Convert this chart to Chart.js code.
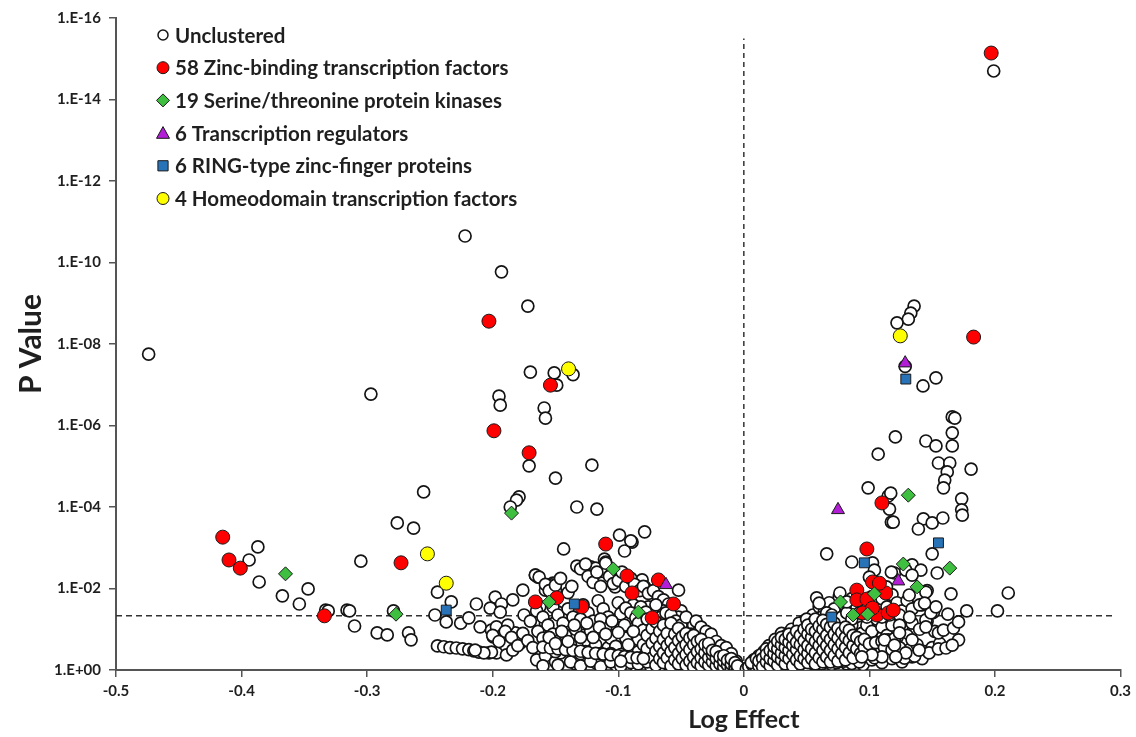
<!DOCTYPE html>
<html><head><meta charset="utf-8">
<script src="https://cdn.jsdelivr.net/npm/chart.js@4/dist/chart.umd.min.js"></script>
<style>html,body{margin:0;padding:0;background:#fff}#wrap{width:1136px;height:737px;position:relative}</style>
</head><body><div id="wrap"><canvas id="c"></canvas></div>
<script>
// ---- DATA (x = log effect, y = -log10 P) ----
const xTicks = [-0.5,-0.4,-0.3,-0.2,-0.1,0,0.1,0.2,0.3];
const yTickLabels = ['1.E+00','1.E-02','1.E-04','1.E-06','1.E-08','1.E-10','1.E-12','1.E-14','1.E-16'];
const legendLabels = ['Unclustered','58 Zinc-binding transcription factors','19 Serine/threonine protein kinases','6 Transcription regulators','6 RING-type zinc-finger proteins','4 Homeodomain transcription factors'];
const xTitle = 'Log Effect';
const yTitle = 'P Value';
const thresholdY = 1.33;
const dividerTop = 15.5;

const unclusteredOutliers = [
[-0.474,7.75],[-0.297,6.77],[-0.222,10.65],[-0.193,9.77],[-0.172,8.93],[-0.170,7.31],[-0.151,7.29],[-0.149,6.99],[-0.136,7.25],
[-0.195,6.72],[-0.194,6.50],[-0.159,6.43],[-0.158,6.18],[-0.171,5.01],[-0.150,4.71],[-0.121,5.03],[-0.255,4.37],[-0.263,3.48],
[-0.276,3.61],[-0.179,4.25],[-0.181,4.17],[-0.186,4.00],[-0.133,4.00],[-0.117,3.95],[-0.099,3.31],[-0.079,3.39],[-0.089,3.14],
[-0.095,2.92],[-0.090,3.17],[-0.1435,2.97],[-0.111,2.72],[-0.122,2.53],[-0.052,1.96],[-0.166,2.33],[-0.164,2.28],[-0.152,2.13],
[-0.150,1.96],[-0.158,1.96],[-0.244,1.91],[-0.233,1.67],[-0.246,1.35],[-0.237,1.18],[-0.213,1.62],[-0.198,1.79],[-0.193,1.62],
[-0.202,1.52],[-0.194,1.42],[-0.267,0.91],[-0.265,0.74],
[-0.244,0.59],[-0.239,0.57],[-0.234,0.55],[-0.229,0.54],[-0.224,0.52],[-0.219,0.50],[-0.215,0.47],[-0.211,0.44],
[-0.305,2.67],[-0.347,1.99],[-0.354,1.62],[-0.333,1.47],[-0.331,1.45],[-0.316,1.47],[-0.314,1.45],[-0.310,1.08],[-0.292,0.91],
[-0.284,0.86],[-0.394,2.70],[-0.387,3.02],[-0.386,2.16],[-0.3675,1.82],[-0.279,1.45],
[-0.2255,1.15],[-0.219,1.28],[-0.210,1.06],[-0.201,0.98],[-0.197,1.06],[-0.192,0.86],[-0.203,0.42],[-0.197,0.42],[-0.189,0.37],
[-0.1625,1.55],[-0.153,2.09],[-0.148,1.42],[-0.158,1.15],[-0.151,1.15],[-0.1625,0.93],[-0.182,0.91],[-0.1995,0.81],[-0.178,0.66],
[-0.184,0.49],[-0.201,0.44],[-0.207,0.42],[-0.214,0.49],[-0.118,2.50],[-0.110,2.65],[-0.106,2.33],[-0.081,2.21],[-0.079,2.04],
[-0.113,2.13],[-0.1025,2.04],[-0.188,1.10],[-0.176,0.74],[-0.184,1.72],[-0.176,1.96]
];
const unclusteredLeftMass = [
[-0.166,2.33],[-0.163,2.28],[-0.158,2.10],[-0.155,1.95],[-0.150,2.08],[-0.146,2.25],[-0.140,1.90],[-0.137,2.05],[-0.133,2.55],
[-0.130,2.48],[-0.126,2.60],[-0.124,2.30],[-0.120,2.15],[-0.117,2.40],[-0.114,2.05],[-0.110,2.62],[-0.107,2.30],[-0.104,2.12],
[-0.100,2.20],[-0.097,2.40],[-0.094,2.05],[-0.090,2.25],[-0.087,2.10],[-0.083,1.95],[-0.080,2.05],[-0.076,1.88],[-0.072,1.95],
[-0.068,1.80],[-0.064,1.72],[-0.060,1.62],[-0.056,1.55],[-0.050,1.45],
[-0.175,1.35],[-0.170,1.20],[-0.165,1.45],[-0.160,1.30],[-0.156,1.10],[-0.152,1.55],[-0.148,1.35],[-0.144,1.15],[-0.140,1.50],
[-0.136,1.30],[-0.132,1.05],[-0.128,1.60],[-0.124,1.40],[-0.120,1.20],[-0.116,1.70],[-0.112,1.50],[-0.108,1.30],[-0.104,1.10],
[-0.100,1.65],[-0.096,1.45],[-0.092,1.25],[-0.088,1.60],[-0.084,1.40],[-0.080,1.20],[-0.076,1.55],[-0.072,1.35],[-0.068,1.15],
[-0.064,1.45],[-0.060,1.25],[-0.056,1.05],[-0.052,1.30],[-0.048,1.15],[-0.044,1.00],[-0.040,1.10],[-0.036,0.95],[-0.032,0.85],[-0.028,0.75],
[-0.200,0.85],[-0.195,0.70],[-0.190,0.95],[-0.185,0.80],[-0.180,0.60],[-0.176,0.90],[-0.172,0.72],[-0.168,0.55],[-0.164,0.95],
[-0.160,0.78],[-0.156,0.60],[-0.152,0.88],[-0.148,0.70],[-0.144,0.52],[-0.140,0.92],[-0.136,0.75],[-0.132,0.58],[-0.128,0.85],
[-0.124,0.68],[-0.120,0.50],[-0.116,0.90],[-0.112,0.72],[-0.108,0.55],[-0.104,0.85],[-0.100,0.68],[-0.096,0.50],[-0.092,0.90],
[-0.088,0.72],[-0.084,0.55],[-0.080,0.88],[-0.076,0.70],[-0.072,0.52],[-0.068,0.85],[-0.064,0.68],[-0.060,0.50],[-0.056,0.80],
[-0.052,0.62],[-0.048,0.45],[-0.044,0.72],[-0.040,0.55],[-0.036,0.40],[-0.032,0.60],[-0.028,0.45],[-0.024,0.55],[-0.020,0.40],
[-0.016,0.45],[-0.012,0.30],
[-0.165,0.25],[-0.158,0.35],[-0.150,0.20],[-0.142,0.30],[-0.134,0.15],[-0.126,0.28],[-0.118,0.18],[-0.110,0.32],[-0.102,0.12],
[-0.094,0.25],[-0.086,0.10],[-0.078,0.30],[-0.070,0.15],[-0.062,0.22],[-0.054,0.10],[-0.046,0.25],[-0.040,0.12],[-0.034,0.20],
[-0.028,0.08],[-0.022,0.18],[-0.018,0.08],[-0.014,0.15],[-0.010,0.06],[-0.007,0.12],[-0.004,0.05],[-0.002,0.03],
[-0.146,0.42],[-0.138,0.62],[-0.130,0.40],[-0.122,0.95],[-0.118,0.62],[-0.114,0.40],[-0.110,1.05],[-0.106,0.78],[-0.102,0.58],
[-0.098,1.00],[-0.094,0.78],[-0.090,0.58],[-0.086,1.05],[-0.082,0.80],[-0.078,0.60],[-0.074,1.10],[-0.070,0.82],[-0.066,0.62],
[-0.062,1.00],[-0.058,0.72],[-0.054,0.50],[-0.050,0.92],[-0.046,0.65],[-0.042,0.48],[-0.038,0.80],[-0.034,0.58],[-0.030,0.35],
[-0.026,0.62],[-0.022,0.42],[-0.018,0.30],[-0.014,0.35],[-0.010,0.20],[-0.006,0.22],
[-0.098,1.38],[-0.094,1.52],[-0.090,1.40],[-0.086,1.28],[-0.082,1.55],[-0.078,1.42],[-0.074,1.25],[-0.070,1.60],[-0.066,1.30],
[-0.062,1.40],[-0.058,1.35],[-0.054,1.20],[-0.050,1.10],[-0.046,1.30],[-0.042,0.88],[-0.038,1.20],[-0.034,1.05],[-0.030,0.95],
[-0.026,0.88],[-0.022,0.70],[-0.018,0.60],[-0.014,0.55],[-0.010,0.40],
[-0.150,0.45],[-0.142,0.85],[-0.134,1.00],[-0.130,1.25],[-0.126,0.45],[-0.122,0.35],[-0.114,1.25],[-0.106,0.40],[-0.098,0.38],
[-0.090,0.40],[-0.082,0.35],[-0.074,0.38],[-0.066,0.40],[-0.058,0.35],[-0.050,0.32],[-0.042,0.30],[-0.036,0.25],[-0.030,0.22],
[-0.024,0.28],[-0.020,0.22],
[-0.160,0.10],[-0.148,0.12],[-0.138,0.20],[-0.130,0.10],[-0.122,0.22],[-0.114,0.08],[-0.106,0.20],[-0.098,0.10],[-0.090,0.18],
[-0.082,0.22],[-0.074,0.08],[-0.066,0.12],[-0.058,0.18],[-0.050,0.08],[-0.044,0.15],[-0.036,0.08],[-0.030,0.14],[-0.024,0.10],
[-0.016,0.04],[-0.012,0.10]
];
const unclusteredLeftCore = [
[-0.084,0.15],[-0.084,0.45],[-0.084,0.75],[-0.084,1.15],[-0.080,0.32],[-0.080,0.62],[-0.080,0.98],
[-0.077,0.20],[-0.077,0.52],[-0.077,0.85],[-0.077,1.25],[-0.073,0.30],[-0.073,0.66],[-0.073,1.02],
[-0.070,0.12],[-0.070,0.46],[-0.070,0.78],[-0.070,1.18],[-0.067,0.28],[-0.067,0.58],[-0.067,0.95],
[-0.064,0.18],[-0.064,0.42],[-0.064,0.75],[-0.064,1.10],[-0.061,0.30],[-0.061,0.60],[-0.061,0.90],
[-0.058,0.10],[-0.058,0.45],[-0.058,0.70],[-0.058,1.15],[-0.055,0.25],[-0.055,0.55],[-0.055,0.88],
[-0.052,0.15],[-0.052,0.40],[-0.052,0.72],[-0.052,1.02],[-0.049,0.28],[-0.049,0.55],[-0.049,0.82],
[-0.046,0.12],[-0.046,0.38],[-0.046,0.62],[-0.046,0.90],[-0.043,0.22],[-0.043,0.50],[-0.043,0.78],
[-0.040,0.08],[-0.040,0.32],[-0.040,0.62],[-0.040,0.85],[-0.037,0.18],[-0.037,0.45],[-0.037,0.70],
[-0.034,0.10],[-0.034,0.30],[-0.034,0.52],[-0.034,0.75],[-0.031,0.20],[-0.031,0.42],[-0.031,0.62],
[-0.028,0.12],[-0.028,0.30],[-0.028,0.52],[-0.028,0.65],[-0.025,0.20],[-0.025,0.38],[-0.025,0.48],
[-0.022,0.10],[-0.022,0.28],[-0.022,0.45],[-0.019,0.15],[-0.019,0.32],[-0.016,0.08],[-0.016,0.22],[-0.016,0.35],
[-0.013,0.12],[-0.013,0.24],[-0.010,0.05],[-0.010,0.15],[-0.010,0.28],[-0.007,0.08],[-0.007,0.18],[-0.005,0.03],[-0.005,0.10],
[-0.160,0.56],[-0.154,0.54],[-0.148,0.52],[-0.142,0.50],[-0.136,0.48],[-0.130,0.46],[-0.124,0.43],[-0.118,0.41],[-0.112,0.39],
[-0.106,0.37],[-0.100,0.35],[-0.095,0.33],[-0.090,0.31],[-0.085,0.30],[-0.080,0.28],
[-0.155,0.80],[-0.145,0.95],[-0.135,1.10],[-0.125,1.15],[-0.115,1.05],[-0.105,1.20],[-0.095,1.10],[-0.088,0.95],[-0.150,0.65],
[-0.140,0.70],[-0.130,0.80],[-0.120,0.80],[-0.110,0.88],[-0.100,0.92],[-0.092,0.62],[-0.098,0.22]
];
const unclusteredRightMass = [
[0.048,1.20],[0.055,1.35],[0.060,1.55],[0.064,1.42],[0.068,1.65],[0.072,1.50],[0.076,1.80],[0.080,1.60],[0.083,1.45],[0.086,1.75],
[0.090,1.55],[0.094,1.70],[0.098,1.50],[0.102,1.80],[0.106,1.60],[0.110,1.75],[0.114,1.55],[0.118,1.85],[0.122,1.65],[0.126,1.45],
[0.130,1.70],[0.134,1.50],[0.138,1.80],[0.142,1.60],[0.146,1.95],[0.150,1.40],
[0.020,0.60],[0.025,0.75],[0.030,0.90],[0.034,0.70],[0.038,1.00],[0.042,0.85],[0.046,1.05],[0.050,0.80],[0.054,1.10],[0.058,0.90],
[0.062,1.15],[0.066,0.95],[0.070,1.20],[0.074,1.00],[0.078,0.80],[0.082,1.15],[0.086,0.95],[0.090,1.25],[0.094,1.05],[0.098,0.85],
[0.102,1.20],[0.106,1.00],[0.110,0.80],[0.114,1.15],[0.118,0.95],[0.122,1.25],[0.126,1.05],[0.130,0.85],[0.134,1.15],[0.140,1.00],
[0.146,1.20],[0.152,0.95],
[0.008,0.25],[0.012,0.35],[0.016,0.45],[0.020,0.30],[0.024,0.50],[0.028,0.38],[0.032,0.55],[0.036,0.42],[0.040,0.60],[0.044,0.45],
[0.048,0.62],[0.052,0.48],[0.056,0.65],[0.060,0.50],[0.064,0.70],[0.068,0.55],[0.072,0.40],[0.076,0.62],[0.080,0.45],[0.084,0.68],
[0.088,0.50],[0.092,0.35],[0.096,0.62],[0.100,0.45],[0.104,0.70],[0.108,0.52],[0.112,0.35],[0.116,0.60],[0.120,0.45],[0.126,0.65],
[0.132,0.50],[0.138,0.62],[0.144,0.45],[0.150,0.55],[0.156,0.65],
[0.002,0.03],[0.004,0.08],[0.007,0.12],[0.010,0.06],[0.014,0.15],[0.018,0.10],[0.022,0.18],[0.026,0.08],[0.030,0.20],[0.035,0.12],
[0.040,0.22],[0.046,0.10],[0.052,0.20],[0.058,0.12],[0.064,0.22],[0.070,0.14],[0.076,0.25],[0.082,0.15],[0.088,0.22],[0.095,0.13],
[0.102,0.25],[0.110,0.18],[0.118,0.28],[0.126,0.20],[0.134,0.32],[0.142,0.28],
[0.006,0.18],[0.010,0.28],[0.014,0.38],[0.018,0.52],[0.022,0.40],[0.026,0.62],[0.030,0.48],[0.034,0.85],[0.038,0.55],[0.042,0.72],
[0.046,0.58],[0.050,0.95],[0.054,0.75],[0.058,0.58],[0.062,0.85],[0.066,0.70],[0.070,0.95],[0.074,0.80],[0.078,1.05],[0.082,0.90],
[0.086,1.10],[0.090,0.70],[0.094,0.90],[0.098,1.10],[0.102,0.95],[0.106,1.25],[0.110,1.05],[0.114,0.85],[0.118,1.10],[0.122,0.80],
[0.030,0.30],[0.034,0.25],[0.038,0.35],[0.042,0.30],[0.046,0.40],[0.050,0.35],[0.054,0.30],[0.058,0.40],[0.062,0.35],[0.066,0.40],
[0.070,0.30],[0.074,0.45],[0.078,0.35],[0.082,0.30],[0.086,0.40],[0.090,0.45],[0.094,0.55],[0.098,0.40],[0.104,0.30],[0.108,0.40],
[0.044,1.15],[0.050,1.25],[0.056,1.20],[0.062,1.30],[0.066,1.40],[0.070,1.35],[0.074,1.20],[0.078,1.30],[0.082,1.40],[0.086,1.25],
[0.092,1.40],[0.098,1.30],[0.104,1.45],[0.110,1.30],[0.116,1.35],[0.124,1.35],[0.132,1.30],
[0.016,0.05],[0.024,0.12],[0.032,0.10],[0.038,0.15],[0.044,0.18],[0.050,0.12],[0.056,0.20],[0.062,0.15],[0.068,0.25],[0.074,0.18],
[0.080,0.22],[0.086,0.16],[0.092,0.20]
];
const unclusteredRightCore = [
[0.012,0.10],[0.012,0.22],[0.015,0.28],[0.015,0.08],[0.018,0.20],[0.018,0.38],[0.021,0.10],[0.021,0.28],[0.021,0.48],
[0.024,0.22],[0.024,0.40],[0.024,0.58],[0.027,0.12],[0.027,0.32],[0.027,0.52],[0.027,0.70],[0.030,0.25],[0.030,0.42],[0.030,0.62],[0.030,0.80],
[0.033,0.15],[0.033,0.35],[0.033,0.55],[0.033,0.75],[0.036,0.28],[0.036,0.48],[0.036,0.68],[0.036,0.88],
[0.039,0.10],[0.039,0.38],[0.039,0.60],[0.039,0.80],[0.042,0.25],[0.042,0.50],[0.042,0.68],[0.042,0.95],
[0.045,0.15],[0.045,0.35],[0.045,0.62],[0.045,0.85],[0.048,0.28],[0.048,0.50],[0.048,0.72],[0.048,1.00],
[0.051,0.18],[0.051,0.40],[0.051,0.60],[0.051,0.88],[0.051,1.10],[0.054,0.28],[0.054,0.52],[0.054,0.80],[0.054,1.00],
[0.057,0.15],[0.057,0.42],[0.057,0.70],[0.057,0.95],[0.057,1.25],[0.060,0.30],[0.060,0.60],[0.060,0.82],[0.060,1.08],
[0.063,0.20],[0.063,0.48],[0.063,0.72],[0.063,1.00],[0.063,1.22],[0.066,0.32],[0.066,0.60],[0.066,0.85],[0.066,1.12],
[0.069,0.20],[0.069,0.48],[0.069,0.75],[0.069,1.05],[0.072,0.35],[0.072,0.62],[0.072,0.88],[0.072,1.15],
[0.075,0.22],[0.075,0.52],[0.075,0.78],[0.075,1.02],[0.078,0.40],[0.078,0.65],[0.078,0.92],
[0.081,0.25],[0.081,0.55],[0.081,0.80],[0.081,1.05],[0.084,0.42],[0.084,0.72],[0.084,0.98],
[0.087,0.30],[0.087,0.60],[0.087,0.85],[0.090,0.52],[0.090,0.80],[0.093,0.40],[0.093,0.70],[0.096,0.55],[0.096,0.75],
[0.100,0.64],[0.105,0.67],[0.110,0.70],[0.115,0.74],[0.120,0.77],[0.112,0.55],[0.118,0.50],[0.124,0.55]
];
const unclusteredRightOutliers = [
[0.199,14.70],[0.1356,8.93],[0.133,8.76],[0.131,8.61],[0.122,8.52],[0.1285,7.45],[0.1427,6.97],[0.153,7.17],[0.166,6.21],[0.168,6.18],
[0.166,5.82],[0.1207,5.72],[0.145,5.62],[0.153,5.50],[0.166,5.50],[0.107,5.30],[0.155,5.08],[0.164,5.08],[0.162,4.86],[0.181,4.93],
[0.160,4.66],[0.159,4.47],[0.099,4.47],[0.115,4.27],[0.117,4.34],[0.116,3.95],[0.1735,4.20],[0.1735,3.93],[0.174,3.80],[0.1175,3.63],
[0.119,3.63],[0.143,3.71],[0.150,3.61],[0.1585,3.73],[0.139,3.46],
[0.066,2.85],[0.086,2.65],[0.1025,2.63],[0.134,2.58],[0.150,2.85],[0.154,2.38],[0.120,2.38],[0.1136,2.04],[0.058,1.77],[0.060,1.64],
[0.0765,1.89],[0.124,1.10],[0.112,0.74],[0.120,0.61],[0.171,0.74],[0.165,1.87],[0.1775,1.45],[0.202,1.45],[0.2106,1.89],[0.1625,1.37],
[0.128,0.29],[0.136,0.34],[0.1475,0.42],[0.155,0.52],[0.161,0.54],[0.166,0.61],[0.155,0.91],[0.145,1.23],[0.159,0.98],[0.167,1.03],
[0.171,1.18],[0.151,1.42],[0.140,1.60],[0.1317,1.84],[0.145,1.91],[0.124,0.91],[0.134,0.74],[0.145,1.06],[0.149,1.40],[0.153,1.55],
[0.144,1.64],[0.1396,0.49],[0.129,0.42],[0.121,0.32],[0.110,0.32],[0.102,0.37],[0.094,0.32],[0.129,2.45],[0.141,2.45],[0.134,2.33],
[0.1175,2.40],[0.104,2.45],[0.100,2.28],[0.082,1.67]
];
const zincFactors = [
[0.197,15.14],[0.183,8.17],[-0.203,8.56],[-0.199,5.87],[-0.154,6.99],[-0.171,5.33],
[-0.415,3.26],[-0.410,2.70],[-0.401,2.50],[-0.273,2.63],[-0.334,1.33],
[-0.110,3.09],[-0.166,1.67],[-0.149,1.77],[-0.129,1.55],[-0.093,2.31],[-0.089,1.89],[-0.068,2.21],[-0.056,1.62],[-0.073,1.28],
[0.110,4.10],[0.098,2.97],[0.1025,2.16],[0.090,1.96],[0.090,1.72],[0.098,1.74],[0.113,1.89],[0.108,2.13],[0.106,1.35],[0.115,1.40],
[0.119,1.47],[0.0946,1.40],[0.1025,1.52]
];
const serineKinases = [
[-0.365,2.36],[-0.277,1.37],[-0.185,3.85],[-0.155,1.67],[-0.104,2.48],[-0.084,1.42],
[0.131,4.29],[0.164,2.50],[0.127,2.60],[0.138,2.04],[0.104,1.87],[0.077,1.67],[0.087,1.35],[0.0986,1.37]
];
const transcriptionRegulators = [[0.075,3.93],[0.1285,7.53],[0.123,2.18],[-0.062,2.09]];
const ringProteins = [[0.129,7.14],[0.155,3.12],[0.096,2.63],[0.070,1.30],[-0.237,1.47],[-0.135,1.62]];
const homeodomainFactors = [[0.1246,8.20],[-0.1396,7.39],[-0.252,2.85],[-0.237,2.13]];

// ---- CHART ----
const toPts = a => a.map(p => ({x: p[0], y: p[1]}));
const unclustered = [].concat(unclusteredOutliers, unclusteredLeftMass, unclusteredLeftCore, unclusteredRightMass, unclusteredRightCore, unclusteredRightOutliers);
const FONT = 'Lato, "Open Sans", sans-serif';
const INK = '#1f1f1f';

const styles = [
  {style:'circle', bg:'#ffffff', border:'#141414', r:6, bw:1.7, lr:5},
  {style:'circle', bg:'#ff0000', border:'#1a1a1a', r:7, bw:1, lr:6},
  {style:'rectRot', bg:'#3fbf3f', border:'#1a1a1a', r:7, bw:1, lr:6.5},
  {style:'triangle', bg:'#b21ed6', border:'#1a1a1a', r:7.5, bw:1, lr:6.5},
  {style:'rect', bg:'#2873b8', border:'#1a1a1a', r:7, bw:1, lr:6},
  {style:'circle', bg:'#ffff00', border:'#1a1a1a', r:7, bw:1, lr:6}
];
const seriesData = [unclustered, zincFactors, serineKinases, transcriptionRegulators, ringProteins, homeodomainFactors];

const datasets = seriesData.map((d, i) => ({
  label: legendLabels[i],
  data: toPts(d),
  pointStyle: styles[i].style,
  pointRadius: styles[i].r,
  pointBackgroundColor: styles[i].bg,
  pointBorderColor: styles[i].border,
  pointBorderWidth: styles[i].bw,
  showLine: false,
  order: i === 0 ? 10 : 6 - i
}));
datasets.push({
  label: 'threshold', data: [{x: xTicks[0], y: thresholdY}, {x: 0.294, y: thresholdY}],
  showLine: true, borderColor: '#333', borderWidth: 1.5, borderDash: [6,4], pointRadius: 0, order: 20
});
datasets.push({
  label: 'zero', data: [{x: 0, y: 0}, {x: 0, y: dividerTop}],
  showLine: true, borderColor: '#333', borderWidth: 1.5, borderDash: [5,4], pointRadius: 0, order: 20
});

function drawMarker(ctx, s, x, y) {
  const r = s.lr;
  ctx.save();
  ctx.fillStyle = s.bg; ctx.strokeStyle = s.border; ctx.lineWidth = s.bw === 1 ? 1 : 1.5;
  ctx.beginPath();
  if (s.style === 'circle') ctx.arc(x, y, r, 0, Math.PI * 2);
  else if (s.style === 'rect') ctx.rect(x - r*0.85, y - r*0.85, r*1.7, r*1.7);
  else if (s.style === 'rectRot') { ctx.moveTo(x, y - r); ctx.lineTo(x + r, y); ctx.lineTo(x, y + r); ctx.lineTo(x - r, y); ctx.closePath(); }
  else if (s.style === 'triangle') { ctx.moveTo(x, y - r); ctx.lineTo(x + r, y + r*0.8); ctx.lineTo(x - r, y + r*0.8); ctx.closePath(); }
  ctx.fill(); ctx.stroke();
  ctx.restore();
}

const legendPlugin = {
  id: 'insideLegend',
  afterDraw(chart) {
    const ctx = chart.ctx;
    ctx.save();
    ctx.font = 'bold 20.5px ' + FONT;
    ctx.fillStyle = INK;
    ctx.textBaseline = 'middle';
    legendLabels.forEach((t, i) => {
      const y = 35 + i * 32.7;
      drawMarker(ctx, styles[i], 163, y);
      ctx.fillText(t, 175, y + 1);
    });
    // x-axis title centred under the zero line, as in the original
    ctx.font = 'bold 25px ' + FONT;
    ctx.textAlign = 'center';
    ctx.fillText(xTitle, chart.scales.x.getPixelForValue(0), 720);
    ctx.restore();
  }
};

new Chart(document.getElementById('c'), {
  type: 'scatter',
  data: { datasets },
  plugins: [legendPlugin],
  options: {
    responsive: true, maintainAspectRatio: false, animation: false,
    layout: { padding: { top: 18, right: 15, left: 0, bottom: 0 } },
    plugins: { legend: { display: false }, tooltip: { enabled: false } },
    scales: {
      x: {
        type: 'linear', min: -0.5, max: 0.3,
        afterFit: s => { s.height = 67; },
        afterBuildTicks: s => { s.ticks = xTicks.map(v => ({value: v})); },
        ticks: { font: { family: FONT, size: 15, weight: 'bold' }, color: INK, padding: 5,
                 callback: v => String(Math.round(v * 10) / 10) },
        grid: { drawOnChartArea: false, drawTicks: true, tickLength: 7, color: '#555', lineWidth: 1.5 },
        border: { display: true, color: '#555', width: 2 },
        title: { display: false }
      },
      y: {
        type: 'linear', min: 0, max: 16,
        afterFit: s => { s.width = 116; },
        afterBuildTicks: s => { s.ticks = yTickLabels.map((t, i) => ({value: i * 2})); },
        ticks: { font: { family: FONT, size: 15, weight: 'bold' }, color: INK, padding: 8,
                 callback: (v) => yTickLabels[Math.round(v / 2)] },
        grid: { drawOnChartArea: false, drawTicks: true, tickLength: 7, color: '#555', lineWidth: 1.5 },
        border: { display: true, color: '#555', width: 2 },
        title: { display: true, text: yTitle, font: { family: FONT, size: 30, weight: 'bold' }, color: INK, padding: { top: 13, bottom: 0 } }
      }
    }
  }
});
</script>
</body></html>
